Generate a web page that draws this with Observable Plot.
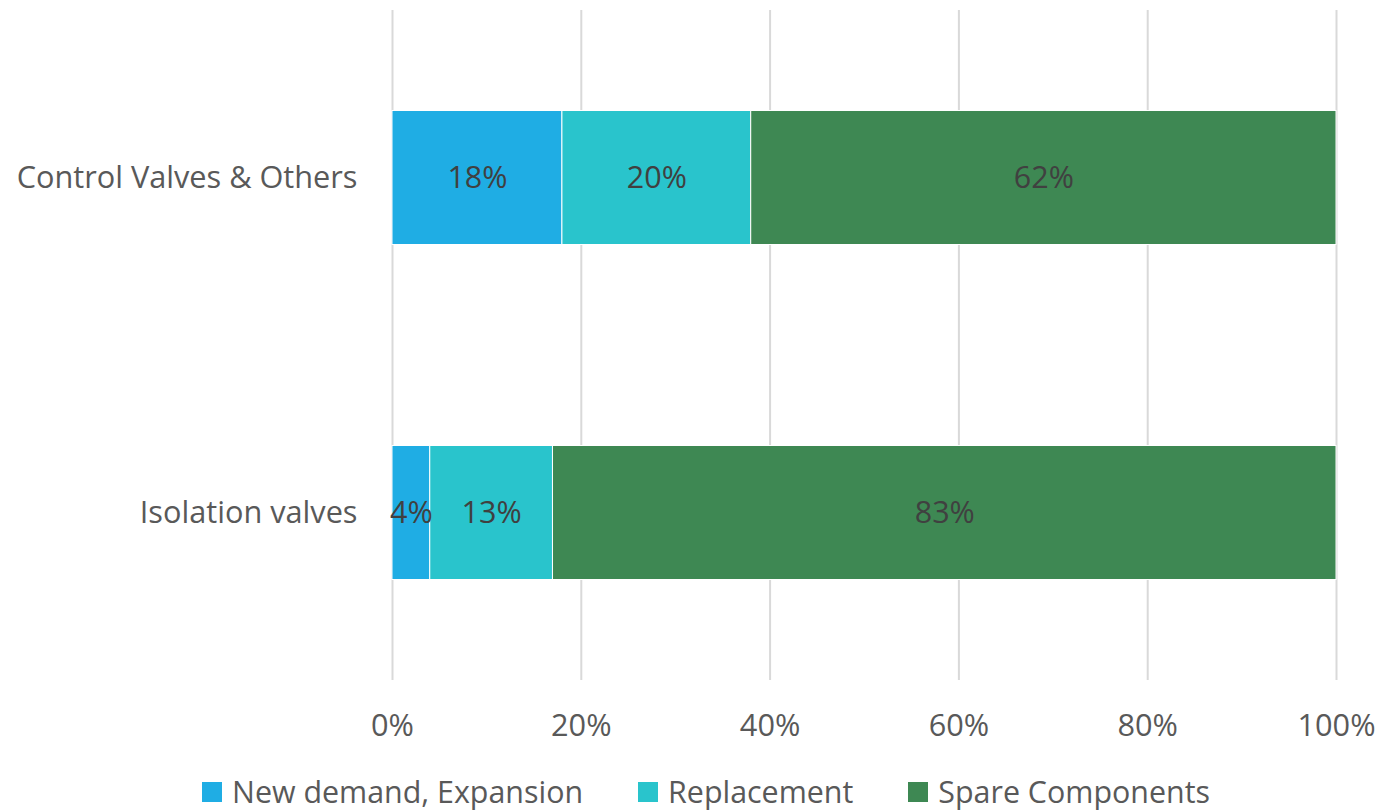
<!DOCTYPE html>
<html>
<head>
<meta charset="utf-8">
<script src="https://cdn.jsdelivr.net/npm/d3@7"></script>
<script src="https://cdn.jsdelivr.net/npm/@observablehq/plot@0.6"></script>
<style>
  body { margin: 0; background: #fff; font-family: "Open Sans", sans-serif; }
  #chart { width: 1378px; }
  #chart svg { display: block; }
  .legend { height: 51px; padding-left: 202px; display: flex; align-items: center; font-size: 30.4px; color: #595959; white-space: nowrap; }
  .legend .item { display: flex; align-items: center; margin-right: 55px; }
  .legend .sw { width: 20px; height: 20px; margin-right: 10px; }
</style>
</head>
<body>
<div id="chart"></div>
<script>
const categories = ["Control Valves & Others", "Isolation valves"];
const seriesNames = ["New demand, Expansion", "Replacement", "Spare Components"];
const newDemand = [18, 4];
const replacement = [20, 13];
const spareComponents = [62, 83];
const colors = ["#1FADE4", "#29C4CC", "#3E8853"];
const xTicks = [0, 20, 40, 60, 80, 100];

const seriesValues = [newDemand, replacement, spareComponents];
const data = [];
categories.forEach((c, i) => {
  seriesNames.forEach((s, j) => data.push({cat: c, series: s, value: seriesValues[j][i]}));
});

const plot = Plot.plot({
  width: 1378,
  height: 766,
  marginLeft: 392,
  marginRight: 42,
  marginTop: 10,
  marginBottom: 86,
  style: {fontFamily: "'Open Sans', sans-serif", fontSize: "30.7px", color: "#595959", background: "#fff"},
  x: {domain: [0, 100], ticks: xTicks, tickFormat: d => d + "%", label: null, tickSize: 0, tickPadding: 34},
  y: {domain: categories, padding: 0, label: null, tickSize: 0, tickPadding: 35},
  color: {domain: seriesNames, range: colors},
  marks: [
    Plot.ruleX(xTicks, {stroke: "#d9d9d9", strokeWidth: 2}),
    Plot.barX(data, Plot.stackX({x: "value", y: "cat", fill: "series", z: "series", stroke: "#fff", strokeWidth: 1, insetTop: 100.5, insetBottom: 100.5})),
    Plot.textX(data, Plot.stackX({x: "value", y: "cat", z: "series", text: d => d.value + "%", fill: "#404040", fontSize: 30.5}))
  ]
});
document.getElementById("chart").appendChild(plot);

const legend = document.createElement("div");
legend.className = "legend";
seriesNames.forEach((s, j) => {
  const item = document.createElement("div");
  item.className = "item";
  const sw = document.createElement("div");
  sw.className = "sw";
  sw.style.background = colors[j];
  const t = document.createElement("span");
  t.textContent = s;
  item.appendChild(sw);
  item.appendChild(t);
  legend.appendChild(item);
});
document.getElementById("chart").appendChild(legend);
</script>
</body>
</html>
